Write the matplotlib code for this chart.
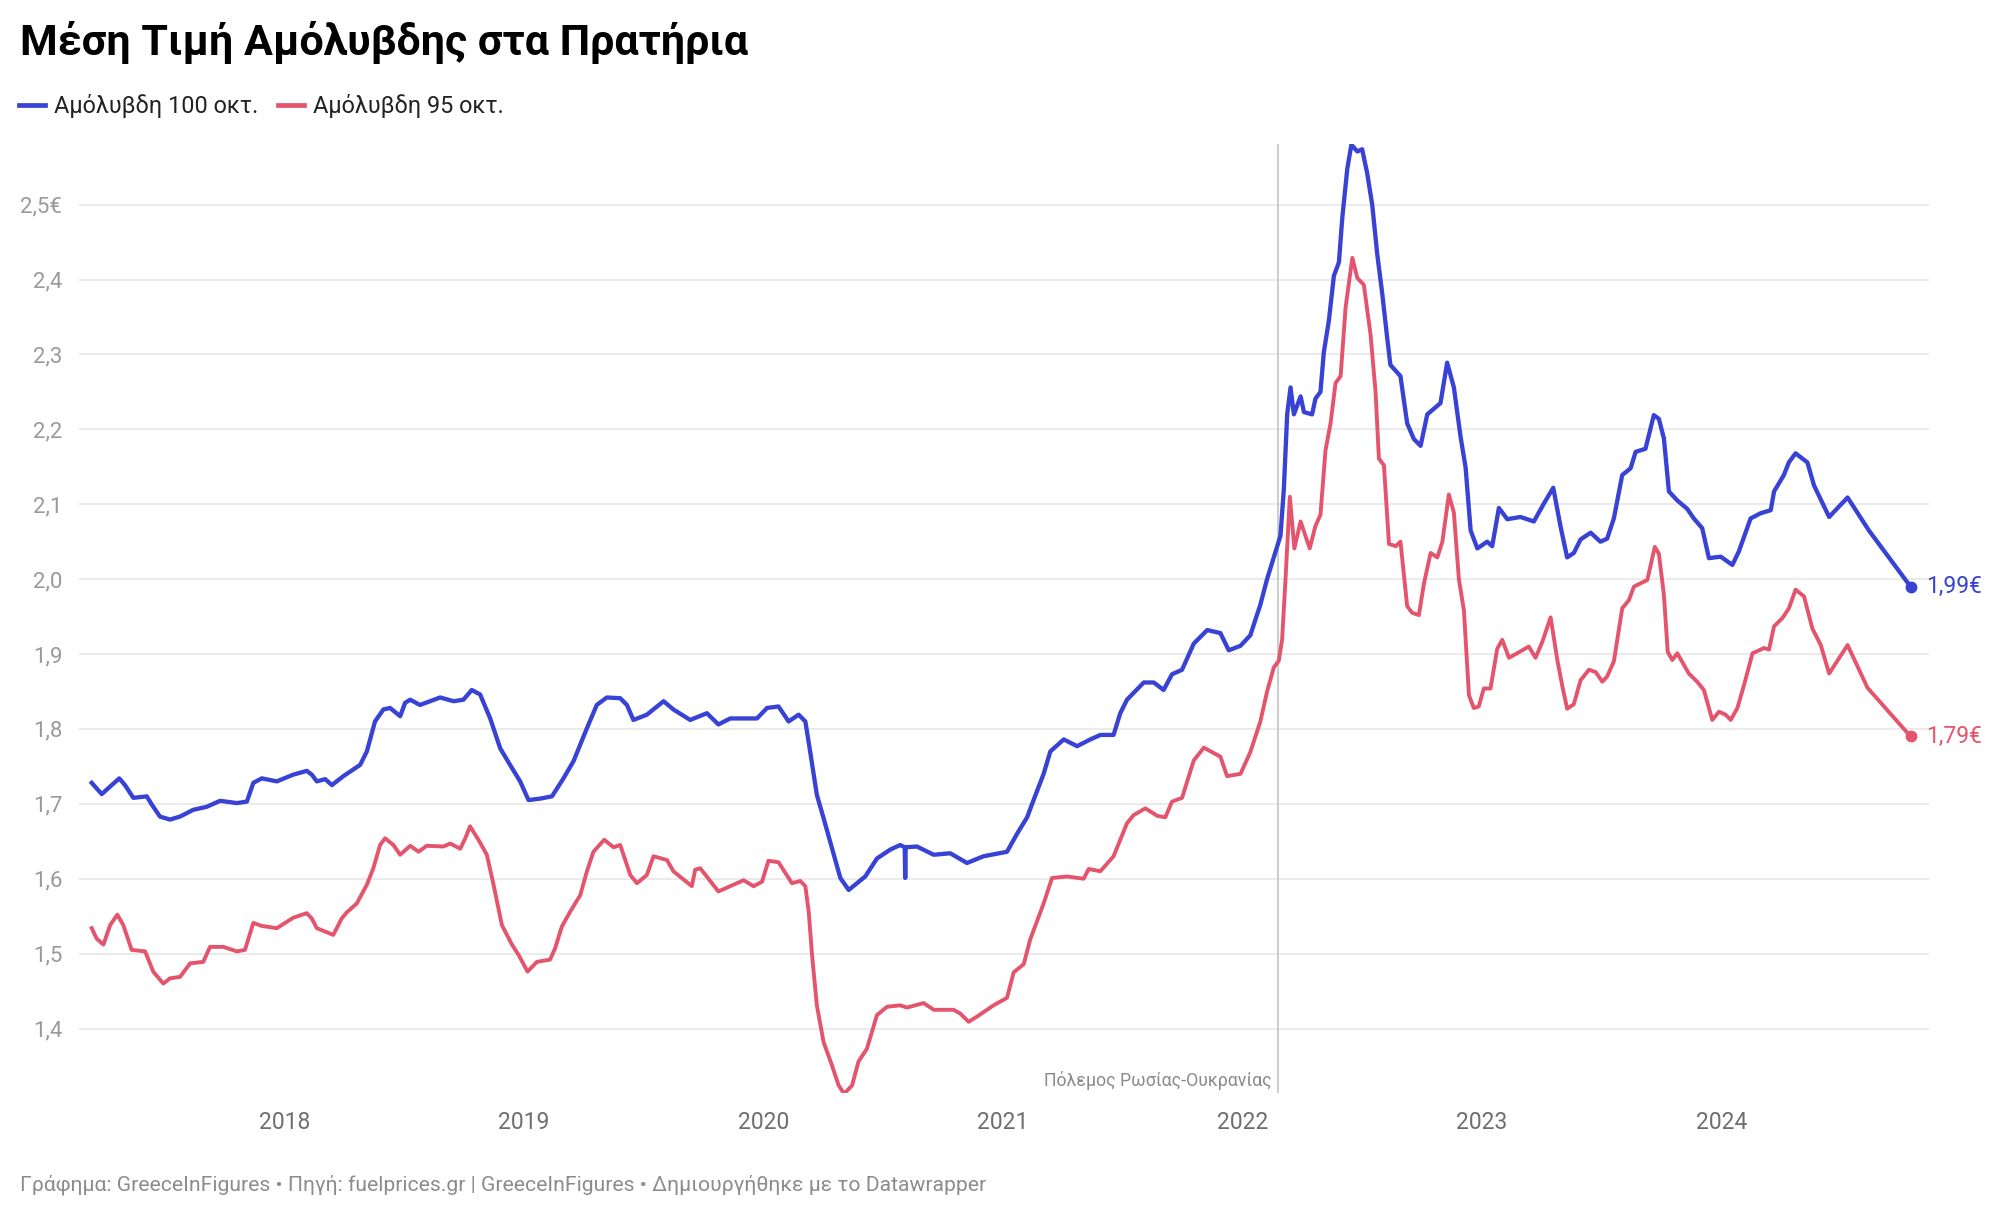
import matplotlib
matplotlib.use("Agg")
import matplotlib.pyplot as plt
from matplotlib.lines import Line2D

plt.rcParams['font.family'] = ['Roboto', 'DejaVu Sans']

# ---------------- data (decimal years, €/litre) ----------------
t100 = [2017.195, 2017.237, 2017.272, 2017.310, 2017.334, 2017.369, 2017.425, 2017.446, 2017.480, 2017.522,
        2017.564, 2017.619, 2017.675, 2017.731, 2017.801, 2017.843, 2017.870, 2017.905, 2017.968, 2018.037,
        2018.093, 2018.114, 2018.135, 2018.170, 2018.198, 2018.246, 2018.316, 2018.344, 2018.378, 2018.413,
        2018.441, 2018.483, 2018.504, 2018.525, 2018.566, 2018.650, 2018.706, 2018.747, 2018.782, 2018.817,
        2018.859, 2018.901, 2018.942, 2018.984, 2019.019, 2019.068, 2019.117, 2019.165, 2019.207, 2019.263,
        2019.304, 2019.346, 2019.402, 2019.430, 2019.457, 2019.513, 2019.583, 2019.624, 2019.694, 2019.764,
        2019.812, 2019.861, 2019.973, 2020.015, 2020.063, 2020.105, 2020.147, 2020.175, 2020.195, 2020.223,
        2020.251, 2020.286, 2020.321, 2020.356, 2020.383, 2020.425, 2020.474, 2020.530, 2020.571, 2020.590,
        2020.592, 2020.594, 2020.641, 2020.711, 2020.780, 2020.850, 2020.919, 2021.017, 2021.059, 2021.101,
        2021.128, 2021.170, 2021.198, 2021.254, 2021.310, 2021.365, 2021.407, 2021.462, 2021.490, 2021.518,
        2021.588, 2021.630, 2021.671, 2021.706, 2021.748, 2021.797, 2021.853, 2021.908, 2021.943, 2021.992,
        2022.033, 2022.075, 2022.103, 2022.131, 2022.159, 2022.173, 2022.187, 2022.201, 2022.215, 2022.243,
        2022.257, 2022.291, 2022.305, 2022.326, 2022.340, 2022.361, 2022.382, 2022.403, 2022.417, 2022.438,
        2022.455, 2022.480, 2022.500, 2022.521, 2022.542, 2022.563, 2022.584, 2022.605, 2022.618, 2022.660,
        2022.688, 2022.716, 2022.744, 2022.772, 2022.827, 2022.855, 2022.883, 2022.911, 2022.932, 2022.953,
        2022.981, 2023.022, 2023.043, 2023.071, 2023.106, 2023.161, 2023.217, 2023.259, 2023.298, 2023.328,
        2023.356, 2023.384, 2023.412, 2023.454, 2023.495, 2023.523, 2023.551, 2023.586, 2023.621, 2023.642,
        2023.683, 2023.718, 2023.739, 2023.760, 2023.781, 2023.816, 2023.857, 2023.885, 2023.920, 2023.948,
        2023.997, 2024.046, 2024.073, 2024.122, 2024.164, 2024.206, 2024.220, 2024.261, 2024.282, 2024.310,
        2024.338, 2024.359, 2024.387, 2024.450, 2024.527, 2024.616, 2024.790]
v100 = [1.728, 1.713, 1.723, 1.734, 1.725, 1.708, 1.710, 1.699, 1.683, 1.679,
        1.683, 1.692, 1.696, 1.704, 1.701, 1.703, 1.728, 1.734, 1.730, 1.739,
        1.744, 1.739, 1.730, 1.733, 1.725, 1.737, 1.752, 1.770, 1.810, 1.826,
        1.828, 1.817, 1.835, 1.839, 1.832, 1.842, 1.837, 1.839, 1.852, 1.846,
        1.814, 1.774, 1.752, 1.730, 1.705, 1.707, 1.710, 1.734, 1.757, 1.801,
        1.832, 1.842, 1.841, 1.832, 1.812, 1.819, 1.837, 1.826, 1.812, 1.821,
        1.806, 1.814, 1.814, 1.828, 1.830, 1.810, 1.819, 1.810, 1.770, 1.712,
        1.681, 1.641, 1.601, 1.585, 1.592, 1.603, 1.627, 1.639, 1.645, 1.642,
        1.601, 1.642, 1.643, 1.632, 1.634, 1.621, 1.630, 1.636, 1.660, 1.682,
        1.705, 1.740, 1.770, 1.786, 1.777, 1.786, 1.792, 1.792, 1.821, 1.839,
        1.862, 1.862, 1.852, 1.873, 1.879, 1.914, 1.932, 1.928, 1.905, 1.911,
        1.925, 1.966, 2.000, 2.029, 2.058, 2.120, 2.220, 2.256, 2.220, 2.244,
        2.223, 2.220, 2.241, 2.250, 2.303, 2.345, 2.405, 2.423, 2.482, 2.548,
        2.580, 2.571, 2.574, 2.542, 2.500, 2.434, 2.381, 2.321, 2.286, 2.271,
        2.208, 2.187, 2.178, 2.220, 2.235, 2.289, 2.256, 2.190, 2.149, 2.065,
        2.041, 2.050, 2.044, 2.095, 2.080, 2.083, 2.077, 2.101, 2.122, 2.071,
        2.029, 2.035, 2.053, 2.062, 2.050, 2.054, 2.081, 2.139, 2.148, 2.170,
        2.174, 2.219, 2.214, 2.188, 2.117, 2.105, 2.094, 2.081, 2.068, 2.028,
        2.030, 2.019, 2.037, 2.081, 2.088, 2.092, 2.117, 2.139, 2.156, 2.168,
        2.161, 2.156, 2.125, 2.083, 2.109, 2.065, 1.990]

t95 = [2017.195, 2017.216, 2017.244, 2017.272, 2017.302, 2017.327, 2017.362, 2017.418, 2017.452, 2017.494,
       2017.522, 2017.564, 2017.606, 2017.661, 2017.689, 2017.745, 2017.801, 2017.835, 2017.870, 2017.905,
       2017.968, 2018.037, 2018.093, 2018.114, 2018.135, 2018.204, 2018.239, 2018.260, 2018.302, 2018.344,
       2018.371, 2018.399, 2018.420, 2018.455, 2018.483, 2018.525, 2018.560, 2018.594, 2018.664, 2018.692,
       2018.734, 2018.755, 2018.775, 2018.810, 2018.845, 2018.873, 2018.908, 2018.950, 2018.978, 2019.015,
       2019.054, 2019.109, 2019.130, 2019.158, 2019.193, 2019.235, 2019.263, 2019.290, 2019.335, 2019.374,
       2019.402, 2019.444, 2019.472, 2019.513, 2019.541, 2019.597, 2019.624, 2019.701, 2019.715, 2019.736,
       2019.812, 2019.861, 2019.917, 2019.959, 2019.994, 2020.021, 2020.063, 2020.119, 2020.154, 2020.175,
       2020.189, 2020.203, 2020.223, 2020.251, 2020.286, 2020.314, 2020.337, 2020.370, 2020.397, 2020.432,
       2020.474, 2020.516, 2020.571, 2020.599, 2020.669, 2020.711, 2020.794, 2020.822, 2020.857, 2020.892,
       2020.961, 2021.017, 2021.045, 2021.087, 2021.114, 2021.170, 2021.205, 2021.268, 2021.337, 2021.358,
       2021.407, 2021.462, 2021.518, 2021.546, 2021.595, 2021.644, 2021.678, 2021.706, 2021.748, 2021.797,
       2021.839, 2021.908, 2021.936, 2021.992, 2022.033, 2022.075, 2022.103, 2022.131, 2022.152, 2022.166,
       2022.180, 2022.198, 2022.217, 2022.243, 2022.281, 2022.305, 2022.326, 2022.347, 2022.368, 2022.389,
       2022.410, 2022.431, 2022.459, 2022.480, 2022.507, 2022.535, 2022.556, 2022.570, 2022.591, 2022.612,
       2022.640, 2022.660, 2022.688, 2022.709, 2022.737, 2022.758, 2022.786, 2022.814, 2022.835, 2022.862,
       2022.883, 2022.904, 2022.925, 2022.946, 2022.966, 2022.987, 2023.008, 2023.036, 2023.064, 2023.085,
       2023.113, 2023.147, 2023.196, 2023.224, 2023.252, 2023.287, 2023.315, 2023.336, 2023.356, 2023.384,
       2023.412, 2023.447, 2023.475, 2023.503, 2023.523, 2023.551, 2023.586, 2023.614, 2023.635, 2023.691,
       2023.722, 2023.739, 2023.760, 2023.776, 2023.795, 2023.816, 2023.864, 2023.899, 2023.927, 2023.962,
       2023.990, 2024.018, 2024.039, 2024.067, 2024.095, 2024.130, 2024.178, 2024.199, 2024.220, 2024.255,
       2024.282, 2024.310, 2024.345, 2024.380, 2024.415, 2024.450, 2024.527, 2024.610, 2024.790]
v95 = [1.534, 1.520, 1.512, 1.538, 1.552, 1.538, 1.505, 1.503, 1.476, 1.460,
       1.467, 1.469, 1.487, 1.489, 1.509, 1.509, 1.503, 1.505, 1.541, 1.537,
       1.534, 1.548, 1.554, 1.547, 1.534, 1.525, 1.547, 1.555, 1.567, 1.592,
       1.614, 1.645, 1.654, 1.645, 1.632, 1.644, 1.636, 1.644, 1.643, 1.647,
       1.640, 1.654, 1.670, 1.652, 1.632, 1.592, 1.538, 1.512, 1.498, 1.476,
       1.489, 1.492, 1.507, 1.536, 1.556, 1.578, 1.610, 1.636, 1.652, 1.642,
       1.645, 1.605, 1.594, 1.605, 1.630, 1.625, 1.610, 1.590, 1.612, 1.614,
       1.583, 1.590, 1.598, 1.590, 1.596, 1.624, 1.622, 1.594, 1.597, 1.590,
       1.556, 1.498, 1.431, 1.382, 1.351, 1.324, 1.313, 1.324, 1.356, 1.373,
       1.418, 1.429, 1.431, 1.428, 1.434, 1.425, 1.425, 1.420, 1.409, 1.416,
       1.431, 1.441, 1.475, 1.486, 1.519, 1.567, 1.601, 1.603, 1.600, 1.613,
       1.610, 1.630, 1.674, 1.685, 1.694, 1.684, 1.682, 1.703, 1.708, 1.758,
       1.775, 1.763, 1.737, 1.740, 1.769, 1.810, 1.850, 1.882, 1.891, 1.920,
       2.000, 2.110, 2.041, 2.077, 2.041, 2.071, 2.086, 2.172, 2.208, 2.262,
       2.271, 2.363, 2.429, 2.402, 2.393, 2.327, 2.250, 2.161, 2.152, 2.047,
       2.044, 2.050, 1.964, 1.955, 1.952, 1.994, 2.035, 2.029, 2.050, 2.113,
       2.089, 2.000, 1.958, 1.845, 1.828, 1.830, 1.854, 1.854, 1.907, 1.919,
       1.895, 1.901, 1.910, 1.895, 1.916, 1.949, 1.892, 1.857, 1.827, 1.833,
       1.865, 1.879, 1.876, 1.863, 1.870, 1.890, 1.961, 1.972, 1.990, 1.999,
       2.043, 2.034, 1.979, 1.903, 1.892, 1.901, 1.874, 1.863, 1.852, 1.812,
       1.823, 1.819, 1.812, 1.828, 1.859, 1.901, 1.908, 1.906, 1.937, 1.948,
       1.961, 1.986, 1.977, 1.934, 1.912, 1.874, 1.912, 1.855, 1.790]

series_names = ["Αμόλυβδη 100 οκτ.", "Αμόλυβδη 95 οκτ."]
year_ticks = [2018, 2019, 2020, 2021, 2022, 2023, 2024]
y_ticks = [1.4, 1.5, 1.6, 1.7, 1.8, 1.9, 2.0, 2.1, 2.2, 2.3, 2.4, 2.5]
y_labels = ["1,4", "1,5", "1,6", "1,7", "1,8", "1,9", "2,0", "2,1", "2,2", "2,3", "2,4", "2,5€"]
war_start = 2022.148
war_label = "Πόλεμος Ρωσίας-Ουκρανίας"
end_labels = ["1,99€", "1,79€"]

title = "Μέση Τιμή Αμόλυβδης στα Πρατήρια"
footer = "Γράφημα: GreeceInFigures • Πηγή: fuelprices.gr | GreeceInFigures • Δημιουργήθηκε με το Datawrapper"

BLUE = "#3843d6"
RED = "#e4546c"

# ---------------- figure ----------------
fig = plt.figure(figsize=(20, 12.16), dpi=100)
ax = fig.add_axes([0.0395, 0.1012, 0.925, 0.7804])

ax.set_xlim(2017.142, 2024.867)
ax.set_ylim(1.314, 2.581)

for s in ax.spines.values():
    s.set_visible(False)

ax.set_yticks(y_ticks)
ax.set_yticklabels(y_labels)
ax.set_xticks(year_ticks)
ax.set_xticklabels([str(y) for y in year_ticks])
ax.tick_params(axis='y', length=0, pad=12, labelsize=16, labelcolor="#9a9a9a")
ax.tick_params(axis='x', length=0, pad=13, labelsize=16.5, labelcolor="#6e6e6e")
ax.grid(axis='y', color="#e6e6e6", linewidth=1.1)
ax.grid(axis='x', visible=False)
ax.set_axisbelow(True)

ax.axvline(war_start, ymin=0, ymax=1, color="#c4c4c4", linewidth=1.2, zorder=1)
ax.text(war_start - 0.028, 1.331, war_label, ha='right', va='center',
        fontsize=12.8, color="#8a8a8a")

ax.plot(t95, v95, color=RED, linewidth=2.8, solid_joinstyle='round', zorder=3)
ax.plot(t100, v100, color=BLUE, linewidth=3.1, solid_joinstyle='round', zorder=4)

ax.plot([t100[-1]], [v100[-1]], 'o', color=BLUE, markersize=7.5, zorder=5)
ax.plot([t95[-1]], [v95[-1]], 'o', color=RED, markersize=7.5, zorder=5)
ax.annotate(end_labels[0], (t100[-1], v100[-1]), xytext=(11, 0), textcoords='offset points',
            ha='left', va='center', fontsize=16.5, color=BLUE)
ax.annotate(end_labels[1], (t95[-1], v95[-1]), xytext=(11, 0), textcoords='offset points',
            ha='left', va='center', fontsize=16.5, color=RED)

# title
fig.text(0.010, 0.965, title, ha='left', va='center', fontsize=31, fontweight='bold', color="#000000")

# legend
handles = [Line2D([0], [0], color=BLUE, linewidth=3.4),
           Line2D([0], [0], color=RED, linewidth=3.4)]
fig.legend(handles, series_names, loc='center left', bbox_to_anchor=(0.0095, 0.913),
           ncol=2, frameon=False, fontsize=16.9, handlelength=1.1, handletextpad=0.38,
           columnspacing=0.87, borderpad=0, borderaxespad=0, labelcolor="#222222")

# footer
fig.text(0.010, 0.026, footer, ha='left', va='center', fontsize=15.2, color="#8c8c8c")

fig.savefig("out.png", dpi=100, facecolor="white")
